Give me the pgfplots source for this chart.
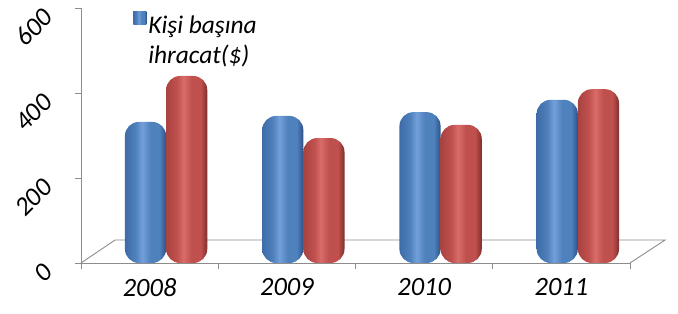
\documentclass[border=0pt]{standalone}
\usepackage{pgfplots}
\pgfplotsset{compat=1.18}
\usepackage{fontspec}
\setmainfont{Carlito}
\definecolor{gridgray}{HTML}{8C8C8C}
\definecolor{b1}{HTML}{3E6CA8}
\definecolor{b2}{HTML}{4F81BD}
\definecolor{b3}{HTML}{73A0DA}
\definecolor{b4}{HTML}{2C5186}
\definecolor{r1}{HTML}{A84340}
\definecolor{r2}{HTML}{C0504D}
\definecolor{r3}{HTML}{D86C68}
\definecolor{r4}{HTML}{7C2F2D}
\pgfdeclarehorizontalshading{bluecyl}{100bp}{color(0bp)=(b1); color(25bp)=(b1); color(38bp)=(b2); color(46bp)=(b3); color(56bp)=(b2); color(67bp)=(b2); color(75bp)=(b4); color(100bp)=(b4)}
\pgfdeclarehorizontalshading{redcyl}{100bp}{color(0bp)=(r1); color(25bp)=(r1); color(38bp)=(r2); color(46bp)=(r3); color(56bp)=(r2); color(67bp)=(r2); color(75bp)=(r4); color(100bp)=(r4)}
\begin{document}
\begin{tikzpicture}
\begin{axis}[
  set layers,
  at={(81bp,51bp)}, anchor=south west,
  scale only axis, width=549bp, height=255bp,
  xmin=-0.5, xmax=3.5, ymin=0, ymax=600,
  clip=false,
  axis x line*=bottom, axis y line*=left,
  axis line style={gridgray, line width=0.9bp},
  every tick/.style={gridgray, line width=0.9bp},
  tick align=outside, major tick length=6bp,
  ytick={0,200,400,600},
  xtick={-0.5,0.5,1.5,2.5,3.5}, xticklabels={},
  extra x ticks={0,1,2,3},
  extra x tick labels={2008,2009,2010,2011},
  extra x tick style={major tick length=0pt, xticklabel style={yshift=-12bp}},
  /pgf/number format/assume math mode=true,
  ticklabel style={font=\fontsize{26.5}{26.5}\selectfont\itshape, text=black},
  yticklabel style={anchor=east, inner sep=0pt, xshift=-27bp, yshift=-5bp, rotate=45},
  ybar, bar width=0.3, bar shift=0pt,
  legend style={at={(0.095,0.995)}, anchor=north west, draw=none, fill=none,
    font=\fontsize{25.5}{31}\selectfont\itshape, inner sep=0pt},
  legend cell align=left,
  legend image code/.code={\fill[b2, sharp corners] (0bp,-1bp) rectangle (13bp,12bp);},
  bluebar/.style={draw=none, shading=bluecyl, rounded corners=14bp},
  redbar/.style={draw=none, shading=redcyl, rounded corners=14bp, forget plot},
]
\begin{pgfonlayer}{axis background}
\draw[gridgray, line width=0.9bp] (axis cs:-0.5,0) -- (axis cs:-0.252,54) -- (axis cs:3.755,54) -- (axis cs:3.5,0);
\end{pgfonlayer}
% Kişi başına ihracat ($) -- blue series
\addplot[bluebar] coordinates {(-0.03,332)};
\addlegendentry{\begin{tabular}[t]{@{}l@{}}\itshape Kişi başına\\\itshape ihracat(\$)\end{tabular}}
\addplot[bluebar, forget plot] coordinates {(0.97,346)};
\addplot[bluebar, forget plot] coordinates {(1.97,355)};
\addplot[bluebar, forget plot] coordinates {(2.97,384)};
% red series
\addplot[redbar] coordinates {(0.27,440)};
\addplot[redbar] coordinates {(1.27,294)};
\addplot[redbar] coordinates {(2.27,325)};
\addplot[redbar] coordinates {(3.27,409)};
\end{axis}
\pgfresetboundingbox
\path[use as bounding box] (0,0) rectangle (678bp,314bp);
\end{tikzpicture}
\end{document}
